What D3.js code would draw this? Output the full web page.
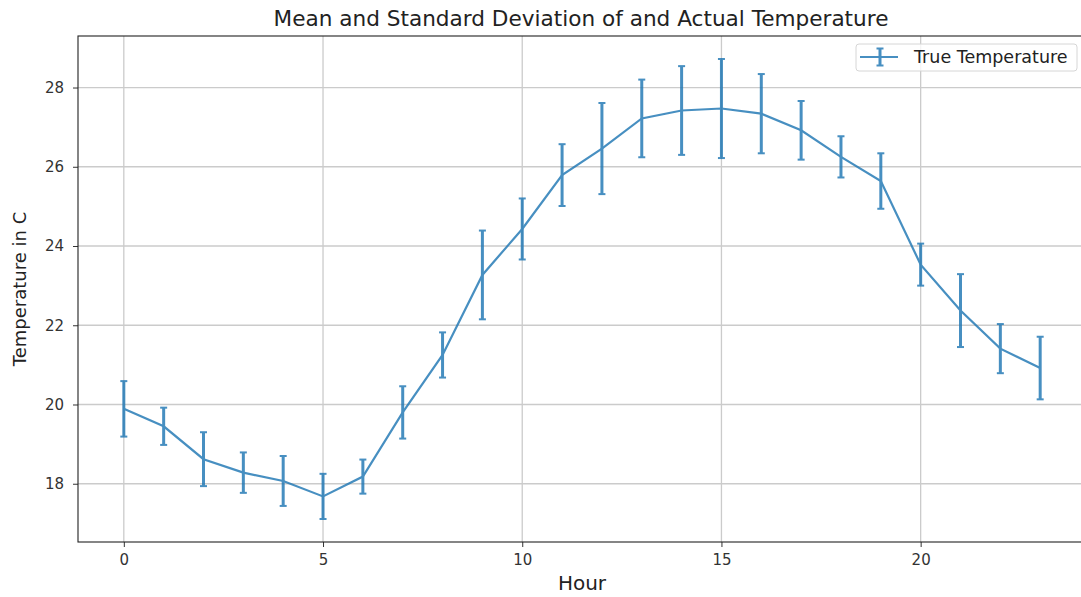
<!DOCTYPE html>
<html>
<head>
<meta charset="utf-8">
<script src="https://cdn.jsdelivr.net/npm/d3@7"></script>
<style>
  body { margin: 0; background: #fff; }
  svg { display: block; font-family: "DejaVu Sans", sans-serif; }
</style>
</head>
<body>
<div id="chart"></div>
<script>
// Hourly mean temperature and its standard deviation
const hours = [0, 1, 2, 3, 4, 5, 6, 7, 8, 9, 10, 11, 12, 13, 14, 15, 16, 17, 18, 19, 20, 21, 22, 23];
const meanTemp = [19.89, 19.45, 18.62, 18.28, 18.07, 17.68, 18.18, 19.80, 21.25, 23.27, 24.43, 25.79, 26.46, 27.22, 27.42, 27.47, 27.34, 26.92, 26.25, 25.64, 23.53, 22.37, 21.41, 20.92];
const stdTemp = [0.70, 0.47, 0.68, 0.51, 0.63, 0.57, 0.43, 0.66, 0.57, 1.12, 0.77, 0.78, 1.15, 0.98, 1.12, 1.25, 1.00, 0.74, 0.52, 0.70, 0.53, 0.92, 0.62, 0.79];
const xTicks = [0, 5, 10, 15, 20];
const yTicks = [18, 20, 22, 24, 26, 28];

function init() {
    const w = 1081, h = 597;
    const left = 78, top = 36, right = 1086, bottom = 542;

    const svg = d3.select("#chart").append("svg")
        .attr("width", w)
        .attr("height", h);

    const data = hours.map((hr, i) => ({ hour: hr, mean: meanTemp[i], std: stdTemp[i] }));

    // matplotlib style 5% margins around the data (error bars included)
    const lo = d3.min(data, d => d.mean - d.std);
    const hi = d3.max(data, d => d.mean + d.std);
    const yPad = (hi - lo) * 0.05;
    const xPad = (d3.max(hours) - d3.min(hours)) * 0.05;

    const x = d3.scaleLinear()
        .domain([d3.min(hours) - xPad, d3.max(hours) + xPad])
        .range([left, right]);
    const y = d3.scaleLinear()
        .domain([lo - yPad, hi + yPad])
        .range([bottom, top]);

    // grid
    svg.append("g").selectAll("line.gx")
        .data(xTicks).enter().append("line")
        .attr("x1", d => x(d)).attr("x2", d => x(d))
        .attr("y1", top).attr("y2", bottom)
        .attr("stroke", "#cbcbcb").attr("stroke-width", 1.3);
    svg.append("g").selectAll("line.gy")
        .data(yTicks).enter().append("line")
        .attr("x1", left).attr("x2", right)
        .attr("y1", d => y(d)).attr("y2", d => y(d))
        .attr("stroke", "#cbcbcb").attr("stroke-width", 1.3);

    // axes
    const xAxis = svg.append("g")
        .attr("transform", "translate(0," + bottom + ")")
        .call(d3.axisBottom(x).tickValues(xTicks).tickSize(5).tickPadding(7));
    const yAxis = svg.append("g")
        .attr("transform", "translate(" + left + ",0)")
        .call(d3.axisLeft(y).tickValues(yTicks).tickSize(5).tickPadding(9));
    [xAxis, yAxis].forEach(a => {
        a.select(".domain").remove();
        a.selectAll("line").attr("stroke", "#333");
        a.selectAll("text").attr("font-size", "15px").attr("fill", "#333")
            .attr("font-family", "DejaVu Sans, sans-serif");
    });

    // spines
    svg.append("rect")
        .attr("x", left).attr("y", top)
        .attr("width", right - left).attr("height", bottom - top)
        .attr("fill", "none").attr("stroke", "#222").attr("stroke-width", 1.1);

    const col = "#1f77b4";
    const g = svg.append("g").attr("opacity", 0.82);

    // line
    g.append("path")
        .datum(data)
        .attr("fill", "none")
        .attr("stroke", col)
        .attr("stroke-width", 2.2)
        .attr("d", d3.line().x(d => x(d.hour)).y(d => y(d.mean)));

    // error bars
    const eb = g.selectAll("g.eb").data(data).enter().append("g");
    eb.append("line")
        .attr("x1", d => x(d.hour)).attr("x2", d => x(d.hour))
        .attr("y1", d => y(d.mean - d.std)).attr("y2", d => y(d.mean + d.std))
        .attr("stroke", col).attr("stroke-width", 3);
    eb.append("line")
        .attr("x1", d => x(d.hour) - 3.5).attr("x2", d => x(d.hour) + 3.5)
        .attr("y1", d => y(d.mean + d.std)).attr("y2", d => y(d.mean + d.std))
        .attr("stroke", col).attr("stroke-width", 2);
    eb.append("line")
        .attr("x1", d => x(d.hour) - 3.5).attr("x2", d => x(d.hour) + 3.5)
        .attr("y1", d => y(d.mean - d.std)).attr("y2", d => y(d.mean - d.std))
        .attr("stroke", col).attr("stroke-width", 2);

    // title and labels
    svg.append("text")
        .attr("x", 581).attr("y", 26)
        .attr("text-anchor", "middle")
        .attr("font-size", "21.6px").attr("fill", "#222")
        .text("Mean and Standard Deviation of and Actual Temperature");
    svg.append("text")
        .attr("x", 582).attr("y", 590)
        .attr("text-anchor", "middle")
        .attr("font-size", "20px").attr("fill", "#222")
        .text("Hour");
    svg.append("text")
        .attr("transform", "translate(26," + (top + bottom) / 2 + ") rotate(-90)")
        .attr("text-anchor", "middle")
        .attr("font-size", "18px").attr("fill", "#222")
        .text("Temperature in C");

    // legend
    const lg = svg.append("g").attr("transform", "translate(856,44)");
    lg.append("rect")
        .attr("width", 221).attr("height", 27).attr("rx", 3)
        .attr("fill", "#fff").attr("fill-opacity", 0.8)
        .attr("stroke", "#d6d6d6");
    const lh = lg.append("g").attr("opacity", 0.82);
    lh.append("line").attr("x1", 4).attr("x2", 42).attr("y1", 13).attr("y2", 13)
        .attr("stroke", col).attr("stroke-width", 2.2);
    lh.append("line").attr("x1", 24).attr("x2", 24).attr("y1", 4.5).attr("y2", 21.5)
        .attr("stroke", col).attr("stroke-width", 3);
    lh.append("line").attr("x1", 20.5).attr("x2", 27.5).attr("y1", 4.5).attr("y2", 4.5)
        .attr("stroke", col).attr("stroke-width", 2);
    lh.append("line").attr("x1", 20.5).attr("x2", 27.5).attr("y1", 21.5).attr("y2", 21.5)
        .attr("stroke", col).attr("stroke-width", 2);
    lg.append("text")
        .attr("x", 58).attr("y", 19)
        .attr("font-size", "17.5px").attr("fill", "#222")
        .text("True Temperature");
}

window.onload = init;
</script>
</body>
</html>
